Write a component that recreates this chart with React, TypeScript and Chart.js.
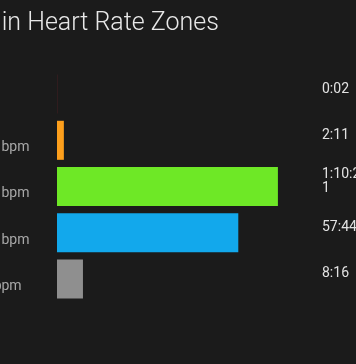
import React, { useEffect, useRef } from "react";
import { Chart, registerables } from "chart.js";

Chart.register(...registerables);

const titleText = "Time in Heart Rate Zones";
const zoneNames = ["Zone 5", "Zone 4", "Zone 3", "Zone 2", "Zone 1"];
const zoneRanges = ["> 171", "152 - 171 bpm", "133 - 152 bpm", "114 - 133 bpm", "95 - 114 bpm"];
const zoneSeconds = [2, 131, 4221, 3464, 496];
const zoneTimes = ["0:02", "2:11", "1:10:21", "57:44", "8:16"];
const zoneColors = ["#e8283c", "#fd9f1c", "#6ee826", "#12a8ec", "#8f8f8f"];

const BG = "#1b1b1b";
const FONT = "Roboto";

function wrapText(ctx: CanvasRenderingContext2D, text: string, maxW: number): string[] {
  const lines: string[] = [];
  let cur = "";
  for (const ch of text) {
    if (cur && ctx.measureText(cur + ch).width > maxW) {
      lines.push(cur);
      cur = ch;
    } else {
      cur += ch;
    }
  }
  if (cur) lines.push(cur);
  return lines;
}

const valueLabelPlugin = {
  id: "valueLabels",
  afterDatasetsDraw(chart: any) {
    const { ctx, chartArea, scales } = chart;
    const y = scales.y;
    ctx.save();
    ctx.font = `14px ${FONT}`;
    ctx.fillStyle = "#e2e2e2";
    ctx.textAlign = "left";
    ctx.textBaseline = "middle";
    const x = chartArea.right + 22;
    const lineH = 14;
    zoneTimes.forEach((t, i) => {
      const lines = wrapText(ctx, t, 42);
      const yc = y.getPixelForValue(i) - 5;
      const start = yc - ((lines.length - 1) * lineH) / 2;
      lines.forEach((l, j) => ctx.fillText(l, x, start + j * lineH));
    });
    ctx.restore();
  },
};

export default function App() {
  const ref = useRef<HTMLCanvasElement>(null);

  useEffect(() => {
    if (!ref.current) return;
    const maxVal = Math.max(...zoneSeconds);
    const chart = new Chart(ref.current, {
      type: "bar",
      data: {
        labels: zoneNames.map((z, i) => [z, zoneRanges[i]]),
        datasets: [
          {
            data: zoneSeconds,
            backgroundColor: zoneColors,
            borderWidth: 0,
            inflateAmount: 0,
            barPercentage: 0.845,
            categoryPercentage: 1,
          } as any,
        ],
      },
      options: {
        indexAxis: "y",
        responsive: false,
        animation: false,
        layout: { padding: { left: 0, right: 56, top: 0, bottom: 62 } },
        plugins: {
          legend: { display: false },
          tooltip: { enabled: false },
          title: {
            display: true,
            text: titleText,
            align: "start",
            color: "#e8e8e8",
            font: { family: FONT, size: 25, weight: "300" as any },
            padding: { top: 9, bottom: 32 },
          },
        },
        scales: {
          x: {
            display: false,
            min: 0,
            max: maxVal * 1.1,
          },
          y: {
            grid: { display: false },
            border: { display: false },
            ticks: {
              crossAlign: "far",
              color: "#a8a8a8",
              font: { family: FONT, size: 14, lineHeight: 1.07 },
            },
            afterFit: (scale: any) => {
              scale.width = 117;
            },
          },
        },
      },
      plugins: [valueLabelPlugin],
    });
    return () => chart.destroy();
  }, []);

  return (
    <div style={{ position: "fixed", inset: 0, background: BG, overflow: "hidden" }}>
      <div style={{ position: "absolute", left: -60, top: 0, width: 416, height: 364 }}>
        <canvas ref={ref} width={416} height={364} style={{ display: "block" }} />
      </div>
    </div>
  );
}
